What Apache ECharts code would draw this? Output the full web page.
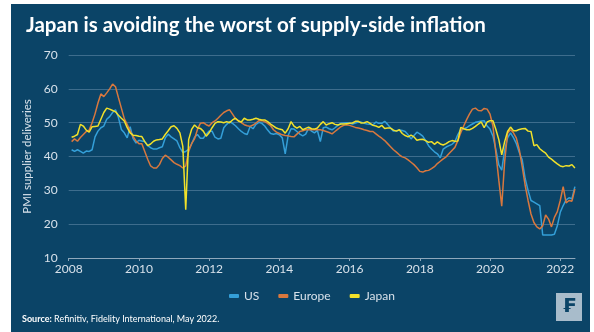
<!DOCTYPE html>
<html><head><meta charset="utf-8">
<script src="https://cdn.jsdelivr.net/npm/echarts@6/dist/echarts.min.js"></script>
<style>html,body{margin:0;padding:0;background:#fff}#c{width:594px;height:332px}</style>
</head><body><div id="c"></div>
<script>
const yearTicks = [2008, 2010, 2012, 2014, 2016, 2018, 2020, 2022];
const startYear = 2008;
const seriesNames = ['US', 'Europe', 'Japan'];
const us = [
42.0,41.5,42.0,41.5,41.0,41.6,41.5,42.0,45.8,47.5,48.5,49.0,
51.0,51.8,53.0,53.8,51.5,48.0,47.0,45.5,48.8,45.3,44.0,44.8,
44.6,44.4,43.2,42.6,42.2,42.2,42.6,42.9,45.5,46.6,45.8,45.2,
44.6,42.6,41.2,41.5,42.1,43.7,45.7,46.5,45.4,45.4,46.6,47.5,
47.5,45.7,45.2,45.4,48.5,49.5,50.3,49.8,49.1,48.2,47.4,46.8,
46.5,48.9,48.2,49.5,50.1,49.8,49.0,47.8,46.8,46.6,46.8,46.4,
45.5,40.8,46.2,48.2,48.1,47.4,46.6,46.1,46.6,48.4,47.5,47.0,
47.7,44.4,48.5,48.7,48.2,47.9,48.5,49.2,49.8,49.9,50.0,49.8,
49.6,49.9,50.2,50.1,49.8,49.6,49.5,49.3,50.2,49.8,49.8,50.4,
49.5,48.4,47.5,47.6,47.8,47.7,47.4,46.4,45.2,46.2,47.2,46.7,
46.0,44.7,43.2,42.2,41.4,40.8,39.6,42.2,42.8,43.2,43.6,44.4,
46.5,48.0,48.2,48.5,49.1,49.6,50.1,50.3,50.5,50.6,49.0,48.1,
46.0,42.0,37.5,36.0,42.0,45.5,47.0,45.6,43.8,41.2,39.0,33.5,
30.0,27.0,26.5,26.0,25.5,16.8,16.8,16.8,16.8,17.0,19.5,23.5,
25.5,27.2,27.8,27.5,31.1];
const europe = [
44.4,45.2,44.5,45.6,46.5,47.4,47.8,50.0,52.6,55.8,58.5,57.7,
58.8,60.0,61.4,60.6,57.4,54.3,51.2,49.4,47.6,45.9,44.6,43.8,
43.8,41.5,39.2,37.2,36.6,36.6,37.6,39.4,40.4,39.8,39.0,38.2,
37.7,37.3,36.6,37.2,41.5,43.8,45.2,48.0,49.8,50.0,49.4,49.0,
50.0,50.5,51.3,52.2,53.0,53.5,53.8,52.5,51.2,50.6,50.0,49.4,
49.1,48.9,49.3,49.9,50.6,50.6,50.3,49.8,49.1,47.9,47.2,46.8,
46.4,46.2,46.1,45.9,45.8,46.6,47.4,47.6,47.9,47.9,47.9,47.9,
47.9,47.9,47.7,47.4,47.1,46.7,47.4,48.1,48.8,49.2,49.4,49.2,
48.9,48.6,48.4,48.2,47.9,47.7,47.4,47.4,46.7,46.0,45.4,44.7,
43.8,42.9,42.0,41.3,40.5,39.9,39.6,39.0,38.3,37.6,36.7,35.6,
35.4,35.8,35.9,36.4,37.0,37.9,38.6,39.3,39.9,40.9,41.8,42.7,
44.7,47.0,49.0,50.9,52.6,54.0,54.3,53.6,53.5,54.2,54.0,52.5,
49.0,41.0,33.0,25.3,38.5,46.9,47.9,47.0,45.4,42.0,37.0,31.5,
27.0,23.0,20.5,19.2,18.6,19.5,22.7,21.5,19.2,22.0,23.7,27.0,
31.1,26.3,27.0,26.8,30.4];
const japan = [
45.7,46.0,46.5,49.5,49.0,47.8,47.2,48.8,48.9,49.0,51.0,53.0,
54.3,54.0,53.6,53.2,52.2,51.3,50.5,48.5,47.0,46.3,46.2,46.0,
45.9,44.4,43.2,43.7,44.5,44.9,45.0,45.2,46.5,47.6,48.8,49.1,
48.3,47.0,43.0,24.3,45.0,48.0,49.3,48.5,48.3,47.5,46.0,47.0,
48.5,49.8,50.3,50.2,50.0,50.3,50.0,50.8,51.3,50.5,50.2,51.3,
50.8,50.8,51.0,51.3,51.0,50.8,50.8,50.3,49.6,49.0,48.4,48.1,
47.9,46.9,48.2,50.3,49.0,48.4,48.9,47.9,48.3,48.7,48.2,48.1,
48.4,49.5,50.3,49.3,49.7,50.0,49.5,49.3,49.6,49.6,49.7,49.8,
49.9,50.4,50.4,49.9,50.0,50.3,49.8,49.2,49.0,48.6,49.2,48.3,
48.4,48.4,47.8,47.5,47.9,46.8,46.2,45.8,46.3,45.8,44.8,45.0,
45.1,44.7,44.2,44.4,43.6,44.3,43.7,43.4,43.8,44.4,44.7,44.5,
44.6,48.6,48.2,47.9,47.9,48.3,48.9,49.6,50.2,48.5,50.2,50.6,
50.6,48.0,45.0,40.5,44.4,47.4,48.7,47.6,47.6,48.0,48.2,48.3,
47.5,47.4,43.2,43.5,42.3,41.6,41.0,39.8,39.2,38.5,37.8,37.2,
37.0,37.3,37.2,37.6,36.6];

// month-end positions on a continuous year axis
const monthX = us.map((_, i) => startYear + (i + 1) / 12);
const pair = arr => arr.map((v, i) => [monthX[i], v]);

const chart = echarts.init(document.getElementById('c'), null, {renderer: 'canvas'});
const labelColor = '#d7e1ea';
const font = 'Lato, "Open Sans", sans-serif';
chart.setOption({
  backgroundColor: '#0b4467',
  animation: false,
  title: {
    text: 'Japan is avoiding the worst of supply-side inflation',
    left: 21, top: 10,
    textStyle: {color: '#ffffff', fontSize: 20.5, fontWeight: 'bold', fontFamily: font}
  },
  grid: {left: 68.7, right: 19, top: 55, bottom: 74},
  legend: {
    data: seriesNames,
    left: 224, top: 285,
    icon: 'roundRect', itemWidth: 10, itemHeight: 4, itemGap: 19,
    textStyle: {color: labelColor, fontSize: 12, fontFamily: font}
  },
  xAxis: {
    type: 'value', min: 2008, max: 2022.42,
    axisLine: {show: true, lineStyle: {color: '#8fa8bc', width: 1}},
    axisTick: {show: true, customValues: yearTicks, length: 3, lineStyle: {color: '#8fa8bc'}},
    axisLabel: {customValues: yearTicks, color: labelColor, fontSize: 12, fontFamily: font, margin: 5,
      formatter: v => String(v)},
    splitLine: {show: false}
  },
  yAxis: {
    type: 'value', min: 10, max: 70, interval: 10,
    name: 'PMI supplier deliveries', nameLocation: 'middle', nameGap: 32,
    nameTextStyle: {color: labelColor, fontSize: 11.5, fontFamily: font},
    axisLine: {show: false}, axisTick: {show: false},
    axisLabel: {color: labelColor, fontSize: 12, fontFamily: font, margin: 11},
    splitLine: {lineStyle: {color: '#3e6d8d', width: 1}}
  },
  series: [
    {name: 'US', type: 'line', data: pair(us), showSymbol: false, color: '#349fd8', lineStyle: {width: 1.5}},
    {name: 'Europe', type: 'line', data: pair(europe), showSymbol: false, color: '#d9783e', lineStyle: {width: 1.5}},
    {name: 'Japan', type: 'line', data: pair(japan), showSymbol: false, color: '#f2e12a', lineStyle: {width: 1.5}}
  ],
  graphic: [
    {type: 'rect', shape: {x: 0, y: 0, width: 11, height: 332}, style: {fill: '#ffffff'}, silent: true},
    {type: 'rect', shape: {x: 0, y: 0, width: 594, height: 4}, style: {fill: '#ffffff'}, silent: true},
    {type: 'rect', shape: {x: 590, y: 0, width: 4, height: 332}, style: {fill: '#ffffff'}, silent: true},
    {type: 'text', left: 22, top: 315, style: {
      text: '{b|Source:} Refinitiv, Fidelity International, May 2022.',
      rich: {b: {fontWeight: 'bold', fill: '#ffffff', fontSize: 9, fontFamily: font}},
      fill: '#ffffff', fontSize: 9, fontFamily: font}},
    {type: 'rect', shape: {x: 556, y: 293, width: 26, height: 28}, style: {fill: '#a8bccb'}},
    {type: 'text', x: 569, y: 307, style: {text: '₣', fill: '#0b4467', fontSize: 20, fontWeight: 'bold',
      fontFamily: 'DejaVu Sans', align: 'center', verticalAlign: 'middle'}}
  ]
});
</script></body></html>
